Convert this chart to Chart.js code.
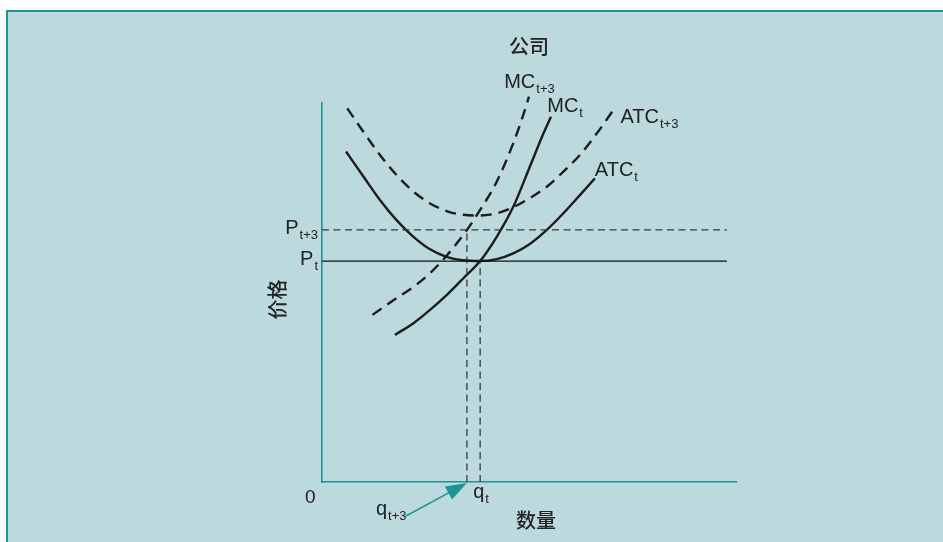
<!DOCTYPE html>
<html>
<head>
<meta charset="utf-8">
<script src="https://cdn.jsdelivr.net/npm/chart.js@4/dist/chart.umd.min.js"></script>
<style>
  html, body { margin: 0; padding: 0; background: #fff; }
  #wrap { position: relative; width: 943px; height: 542px; overflow: hidden; }
  #panel {
    position: absolute; left: 6px; top: 10px; width: 960px; height: 560px;
    background: #bcd9de;
    border-top: 2px solid #1f9494;
    border-left: 2px solid #1f9494;
  }
  canvas { position: absolute; left: 0; top: 0; }
</style>
</head>
<body>
<div id="wrap">
  <div id="panel"></div>
  <canvas id="firmChart" width="943" height="542"></canvas>
</div>
<script>
        // ============================================
        // DATA (quantity / price, arbitrary units 0-10)
        // ============================================
        const atcNowQ  = [0.58, 1.00, 1.40, 1.80, 2.21, 2.61, 3.01, 3.41, 3.82, 4.22, 4.62, 5.02, 5.43, 5.83, 6.23, 6.59];
        const atcNowP  = [8.72, 8.06, 7.44, 6.91, 6.47, 6.14, 5.94, 5.85, 5.83, 5.88, 6.03, 6.28, 6.65, 7.09, 7.57, 8.01];

        const atcLaterQ = [0.61, 1.00, 1.40, 1.80, 2.21, 2.61, 3.01, 3.41, 3.82, 4.22, 4.62, 5.02, 5.43, 5.83, 6.23, 6.64, 7.04];
        const atcLaterP = [9.86, 9.24, 8.63, 8.10, 7.66, 7.35, 7.15, 7.05, 7.03, 7.09, 7.25, 7.49, 7.79, 8.19, 8.63, 9.20, 9.82];

        const mcNowQ  = [1.76, 2.21, 2.61, 3.01, 3.41, 3.82, 4.22, 4.62, 5.02, 5.35, 5.53];
        const mcNowP  = [3.88, 4.19, 4.54, 4.93, 5.37, 5.83, 6.47, 7.26, 8.32, 9.20, 9.64];

        const mcLaterQ = [1.22, 1.80, 2.21, 2.61, 3.01, 3.50, 3.82, 4.22, 4.62, 4.86, 5.00];
        const mcLaterP = [4.41, 4.85, 5.15, 5.51, 5.97, 6.65, 7.18, 7.92, 8.94, 9.68, 10.17];

        // equilibrium prices and quantities: [t, t+3]
        const priceLevels = [5.83, 6.65];
        const qtyLevels   = [3.82, 3.50];
        const periodSubs  = ['t', 't+3'];
        const priceLineEnd = 9.78;

        const AXIS = '#1f9494';
        const INK = '#1c1c1c';
        const GUIDE = '#3a3a3a';
        const LATIN = '"Liberation Sans", Arial, sans-serif';
        const CJK = '"Noto Sans CJK SC", sans-serif';

        function toPoints(qs, ps) {
            return qs.map((q, i) => ({ x: q, y: ps[i] }));
        }

        function curve(label, qs, ps, dashed) {
            return {
                label: label,
                data: toPoints(qs, ps),
                borderColor: INK,
                borderWidth: 2.4,
                borderDash: dashed ? [11, 7] : [],
                cubicInterpolationMode: 'monotone',
                pointRadius: 0,
                fill: false,
                clip: false
            };
        }

        function guide(label, pts, dashed, color, width) {
            return {
                label: label,
                data: pts,
                borderColor: color,
                borderWidth: width,
                borderDash: dashed ? [7, 4.5] : [],
                pointRadius: 0,
                tension: 0,
                fill: false,
                clip: false
            };
        }

        // ============================================
        // LABELS (drawn on top, with subscripts)
        // ============================================
        function subText(ctx, base, sub, x, y, align) {
            ctx.font = '20px ' + LATIN;
            const wb = ctx.measureText(base).width;
            ctx.font = '13px ' + LATIN;
            const ws = ctx.measureText(sub).width;
            let left = x;
            if (align === 'right') left = x - wb - ws - 1;
            ctx.textAlign = 'left';
            ctx.textBaseline = 'alphabetic';
            ctx.font = '20px ' + LATIN;
            ctx.fillText(base, left, y);
            ctx.font = '13px ' + LATIN;
            ctx.fillText(sub, left + wb + 1, y + 5);
        }

        const firmLabels = {
            id: 'firmLabels',
            afterDraw(chart) {
                const { ctx, scales: { x, y } } = chart;
                ctx.save();
                ctx.fillStyle = '#222';

                // curve names
                subText(ctx, 'MC', periodSubs[1], x.getPixelForValue(4.40), y.getPixelForValue(10.40));
                subText(ctx, 'MC', periodSubs[0], x.getPixelForValue(5.44), y.getPixelForValue(9.77));
                subText(ctx, 'ATC', periodSubs[1], x.getPixelForValue(7.21), y.getPixelForValue(9.48));
                subText(ctx, 'ATC', periodSubs[0], x.getPixelForValue(6.59), y.getPixelForValue(8.07));

                // price marks on the y axis
                priceLevels.forEach((p, i) => {
                    subText(ctx, 'P', periodSubs[i], x.left - 4, y.getPixelForValue(p) + 4, 'right');
                });

                // origin and quantity marks
                ctx.font = '19px ' + LATIN;
                ctx.fillText('0', x.left - 17, y.bottom + 21);
                subText(ctx, 'q', periodSubs[0], x.getPixelForValue(qtyLevels[0]) - 7, y.bottom + 16);
                subText(ctx, 'q', periodSubs[1], x.left + 54, y.bottom + 33);

                // arrow from q(t+3) label to its point on the axis
                const tipX = x.getPixelForValue(qtyLevels[1]);
                const tipY = y.bottom + 1;
                const tailX = x.left + 84, tailY = y.bottom + 34;
                const ang = Math.atan2(tipY - tailY, tipX - tailX);
                ctx.strokeStyle = AXIS;
                ctx.fillStyle = AXIS;
                ctx.lineWidth = 1.5;
                ctx.beginPath();
                ctx.moveTo(tailX, tailY);
                ctx.lineTo(tipX - 15 * Math.cos(ang), tipY - 15 * Math.sin(ang));
                ctx.stroke();
                ctx.beginPath();
                ctx.moveTo(tipX, tipY);
                ctx.lineTo(tipX - 21 * Math.cos(ang) + 7.5 * Math.sin(ang), tipY - 21 * Math.sin(ang) - 7.5 * Math.cos(ang));
                ctx.lineTo(tipX - 21 * Math.cos(ang) - 7.5 * Math.sin(ang), tipY - 21 * Math.sin(ang) + 7.5 * Math.cos(ang));
                ctx.closePath();
                ctx.fill();

                // titles
                ctx.fillStyle = '#222';
                ctx.font = '500 20px ' + CJK;
                ctx.textAlign = 'center';
                ctx.textBaseline = 'middle';
                ctx.fillText('公司', (x.left + x.right) / 2, 46);
                ctx.fillText('数量', (x.left + x.right) / 2 + 7, y.bottom + 38);
                ctx.translate(x.left - 45, (y.top + y.bottom) / 2 + 7);
                ctx.rotate(-Math.PI / 2);
                ctx.fillText('价格', 0, 0);
                ctx.restore();
            }
        };

        // ============================================
        // CHART
        // ============================================
        new Chart(document.getElementById('firmChart'), {
            type: 'line',
            data: {
                datasets: [
                    guide('P t+3', [{ x: 0, y: priceLevels[1] }, { x: priceLineEnd, y: priceLevels[1] }], true, GUIDE, 1.3),
                    guide('P t', [{ x: 0, y: priceLevels[0] }, { x: priceLineEnd, y: priceLevels[0] }], false, '#111', 1.3),
                    guide('q t+3', [{ x: qtyLevels[1], y: 0 }, { x: qtyLevels[1], y: priceLevels[1] }], true, GUIDE, 1.3),
                    guide('q t', [{ x: qtyLevels[0], y: 0 }, { x: qtyLevels[0], y: priceLevels[0] }], true, GUIDE, 1.3),
                    curve('ATC t', atcNowQ, atcNowP, false),
                    curve('ATC t+3', atcLaterQ, atcLaterP, true),
                    curve('MC t', mcNowQ, mcNowP, false),
                    curve('MC t+3', mcLaterQ, mcLaterP, true)
                ]
            },
            options: {
                responsive: false,
                animation: false,
                layout: { padding: { left: 314, top: 103, right: 207, bottom: 52 } },
                plugins: {
                    legend: { display: false },
                    tooltip: { enabled: false }
                },
                scales: {
                    x: {
                        type: 'linear', min: 0, max: 10,
                        ticks: { display: false },
                        grid: { display: false },
                        border: { display: true, color: AXIS, width: 1.6 }
                    },
                    y: {
                        type: 'linear', min: 0, max: 10,
                        ticks: { display: false },
                        grid: { display: false },
                        border: { display: true, color: AXIS, width: 1.6 }
                    }
                }
            },
            plugins: [firmLabels]
        });
</script>
</body>
</html>
